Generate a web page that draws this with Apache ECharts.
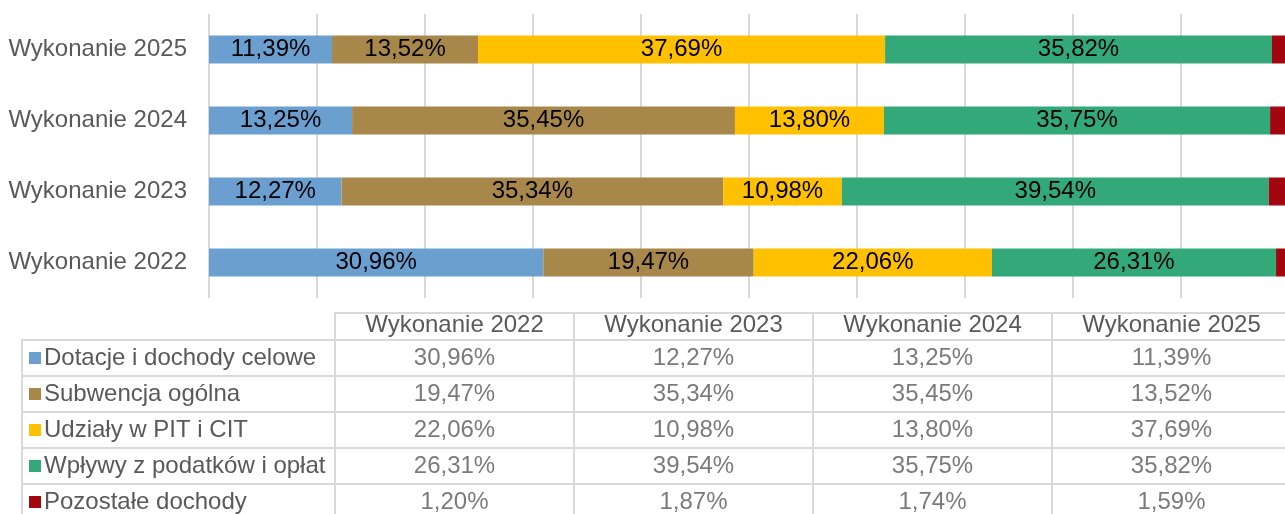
<!DOCTYPE html>
<html>
<head>
<meta charset="utf-8">
<script src="https://cdn.jsdelivr.net/npm/echarts@6/dist/echarts.min.js"></script>
<style>
  html, body { margin: 0; padding: 0; background: #fff; overflow: hidden; }
  /* kontener nieco większy od okna - wykres źródłowy jest przycięty z prawej i z dołu */
  #chart { width: 1300px; height: 530px; }
</style>
</head>
<body>
<div id="chart"></div>
<script>
const years = ['Wykonanie 2022', 'Wykonanie 2023', 'Wykonanie 2024', 'Wykonanie 2025']

// udział poszczególnych źródeł dochodów (%)
const series = [
  { name: 'Dotacje i dochody celowe', color: '#6B9FD0', data: [30.96, 12.27, 13.25, 11.39] },
  { name: 'Subwencja ogólna', color: '#A8884A', data: [19.47, 35.34, 35.45, 13.52] },
  { name: 'Udziały w PIT i CIT', color: '#FFC000', data: [22.06, 10.98, 13.8, 37.69] },
  { name: 'Wpływy z podatków i opłat', color: '#33A97A', data: [26.31, 39.54, 35.75, 35.82] },
  { name: 'Pozostałe dochody', color: '#A2060E', data: [1.2, 1.87, 1.74, 1.59] },
]

const fmt = (v) => v.toFixed(2).replace('.', ',') + '%'
const font = 'Liberation Sans, Arial, sans-serif'
const gridColor = '#d9d9d9'
const fs = 24

// tabela danych pod wykresem
const rowNames = series.map((s) => s.name)
const cells = []
series.forEach((s, r) => {
  s.data.forEach((v, c) => cells.push([c, r, v]))
})

const rich = { t: { fontSize: fs, color: '#595959', fontFamily: font, padding: [0, 0, 0, 3] } }
series.forEach((s, i) => {
  rich['s' + i] = { width: 12, height: 12, backgroundColor: s.color }
})

const chart = echarts.init(document.getElementById('chart'))

const option = {
  animation: false,
  textStyle: { fontFamily: font },
  grid: [
    { left: 209, right: 11, top: 14, bottom: 232 },
    { left: 335, right: 9, top: 340, bottom: 10 },
  ],
  xAxis: [
    {
      gridIndex: 0,
      type: 'value',
      min: 0,
      max: 100,
      interval: 10,
      axisLabel: { show: false },
      axisLine: { show: false },
      axisTick: { show: false },
      splitLine: { lineStyle: { color: gridColor, width: 2 } },
    },
    {
      gridIndex: 1,
      type: 'category',
      position: 'top',
      data: years,
      axisLine: { lineStyle: { color: gridColor, width: 2 } },
      axisTick: { show: true, length: 27, inside: false, lineStyle: { color: gridColor, width: 2 } },
      axisLabel: { fontSize: fs, color: '#595959', margin: 3 },
      splitLine: { show: true, lineStyle: { color: gridColor, width: 2 } },
    },
    {
      gridIndex: 1,
      type: 'category',
      position: 'top',
      offset: 27,
      data: years,
      axisLine: { show: true, lineStyle: { color: gridColor, width: 2 } },
      axisTick: { show: false },
      axisLabel: { show: false },
    },
  ],
  yAxis: [
    {
      gridIndex: 0,
      type: 'category',
      data: years,
      axisLine: { show: false },
      axisTick: { show: false },
      axisLabel: { fontSize: fs, color: '#595959', margin: 22 },
    },
    {
      gridIndex: 1,
      type: 'category',
      position: 'left',
      inverse: true,
      data: rowNames,
      axisLine: { show: true, lineStyle: { color: gridColor, width: 2 } },
      axisTick: { show: true, length: 313, lineStyle: { color: gridColor, width: 2 } },
      axisLabel: {
        align: 'left',
        margin: 306,
        formatter: (val, idx) => '{s' + idx + '|}{t|' + val + '}',
        rich: rich,
      },
      splitLine: { show: true, lineStyle: { color: gridColor, width: 2 } },
    },
    {
      gridIndex: 1,
      type: 'category',
      position: 'left',
      inverse: true,
      offset: 313,
      data: rowNames,
      axisLine: { show: true, lineStyle: { color: gridColor, width: 2 } },
      axisTick: { show: false },
      axisLabel: { show: false },
    },
  ],
  series: [
    ...series.map((s, i) => ({
      name: s.name,
      type: 'bar',
      stack: 'total',
      xAxisIndex: 0,
      yAxisIndex: 0,
      barWidth: 28,
      data: s.data,
      itemStyle: { color: s.color },
      label: {
        show: i < 4,
        position: 'inside',
        fontSize: fs,
        color: '#000',
        formatter: (p) => fmt(p.value),
      },
    })),
    {
      type: 'scatter',
      xAxisIndex: 1,
      yAxisIndex: 1,
      symbolSize: 1,
      itemStyle: { color: 'rgba(0,0,0,0)' },
      data: cells,
      label: {
        show: true,
        position: 'inside',
        fontSize: fs,
        color: '#595959',
        formatter: (p) => fmt(p.value[2]),
      },
    },
  ],
}

chart.setOption(option)
</script>
</body>
</html>
